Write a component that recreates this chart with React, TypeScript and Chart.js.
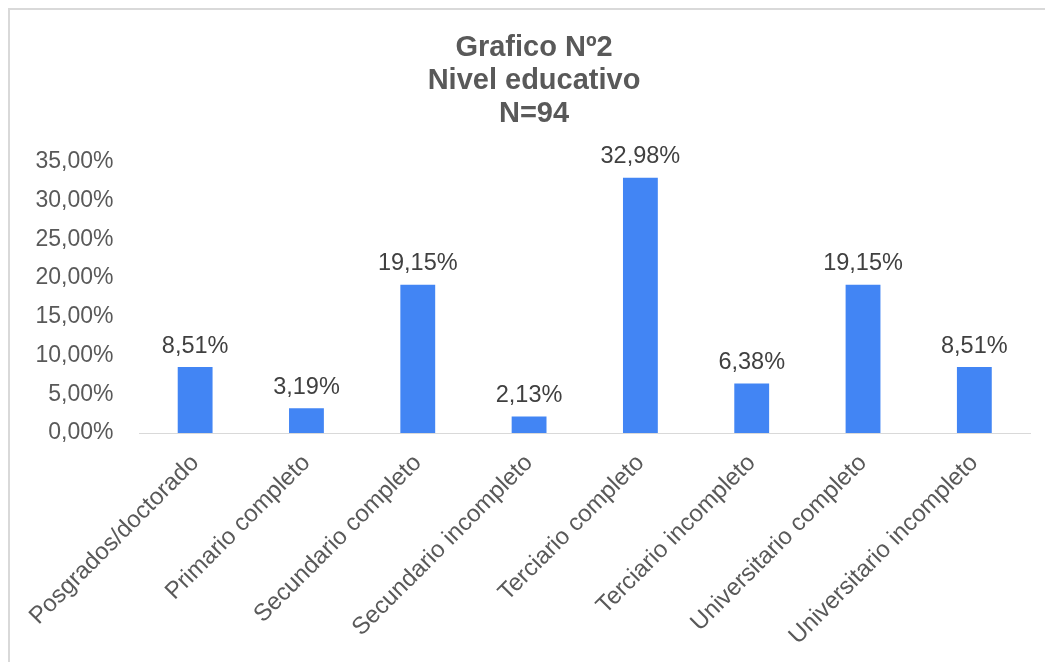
import React, { useEffect, useRef } from "react";
import { Chart, registerables } from "chart.js";

Chart.register(...registerables);

const categories: string[] = [
  "Posgrados/doctorado",
  "Primario completo",
  "Secundario completo",
  "Secundario incompleto",
  "Terciario completo",
  "Terciario incompleto",
  "Universitario completo",
  "Universitario incompleto",
];
const percentages: number[] = [8.51, 3.19, 19.15, 2.13, 32.98, 6.38, 19.15, 8.51];
const titleLines: string[] = ["Grafico Nº2", "Nivel educativo", "N=94"];
const yMax = 35;
const yStep = 5;

const FONT = "'Liberation Sans', Arial, sans-serif";
const fmt = (v: number) => v.toFixed(2).replace(".", ",") + "%";

const dataLabels = {
  id: "dataLabels",
  afterDatasetsDraw(chart: any) {
    const ctx = chart.ctx;
    const meta = chart.getDatasetMeta(0);
    ctx.save();
    ctx.font = `23.5px ${FONT}`;
    ctx.fillStyle = "#404040";
    ctx.textAlign = "center";
    ctx.textBaseline = "alphabetic";
    meta.data.forEach((bar: any, i: number) => {
      ctx.fillText(fmt(chart.data.datasets[0].data[i]), bar.x, bar.y - 14.5);
    });
    ctx.restore();
  },
};

export default function App() {
  const ref = useRef<HTMLCanvasElement>(null);
  useEffect(() => {
    if (!ref.current) return;
    const chart = new Chart(ref.current, {
      type: "bar",
      data: {
        labels: categories,
        datasets: [
          {
            data: percentages,
            backgroundColor: "#4285F4",
            categoryPercentage: 1,
            barPercentage: 0.313,
            yAxisID: "y",
          },
        ],
      },
      options: {
        responsive: false,
        animation: false,
        devicePixelRatio: 1,
        layout: { padding: 0 },
        plugins: {
          legend: { display: false },
          tooltip: { enabled: false },
          title: {
            display: true,
            text: titleLines,
            color: "#595959",
            font: { family: FONT, size: 29, weight: "bold", lineHeight: 33 / 29 },
            padding: { top: 21, bottom: 32 },
          },
        },
        scales: {
          x: {
            grid: { display: false, drawTicks: false },
            border: { display: true, color: "#d9d9d9", width: 1 },
            ticks: {
              autoSkip: false,
              minRotation: 45,
              maxRotation: 45,
              padding: 16,
              color: "#595959",
              font: { family: FONT, size: 24 },
            },
            afterFit: (s: any) => {
              s.height = 237;
            },
          },
          y: {
            min: 0,
            max: yMax,
            grid: { display: false, drawTicks: false },
            border: { display: false },
            ticks: {
              stepSize: yStep,
              padding: 26,
              color: "#595959",
              font: { family: FONT, size: 23 },
              callback: (v: any) => fmt(Number(v)),
            },
            afterFit: (s: any) => {
              s.width = 125;
            },
          },
          yRight: {
            type: "linear",
            position: "right",
            min: 0,
            max: yMax,
            grid: { display: false, drawTicks: false },
            border: { display: false },
            ticks: { display: false },
            afterFit: (s: any) => {
              s.width = 28;
            },
          },
        },
      },
      plugins: [dataLabels],
    });
    return () => chart.destroy();
  }, []);

  return (
    <div
      style={{
        position: "fixed",
        left: 8,
        top: 8,
        width: 1037,
        height: 654,
        overflow: "hidden",
        background: "#fff",
      }}
    >
      <div
        style={{
          borderLeft: "2px solid #d9d9d9",
          borderTop: "2px solid #d9d9d9",
          width: 1048,
          height: 660,
        }}
      >
        <canvas ref={ref} width={1048} height={660} style={{ display: "block" }} />
      </div>
    </div>
  );
}
